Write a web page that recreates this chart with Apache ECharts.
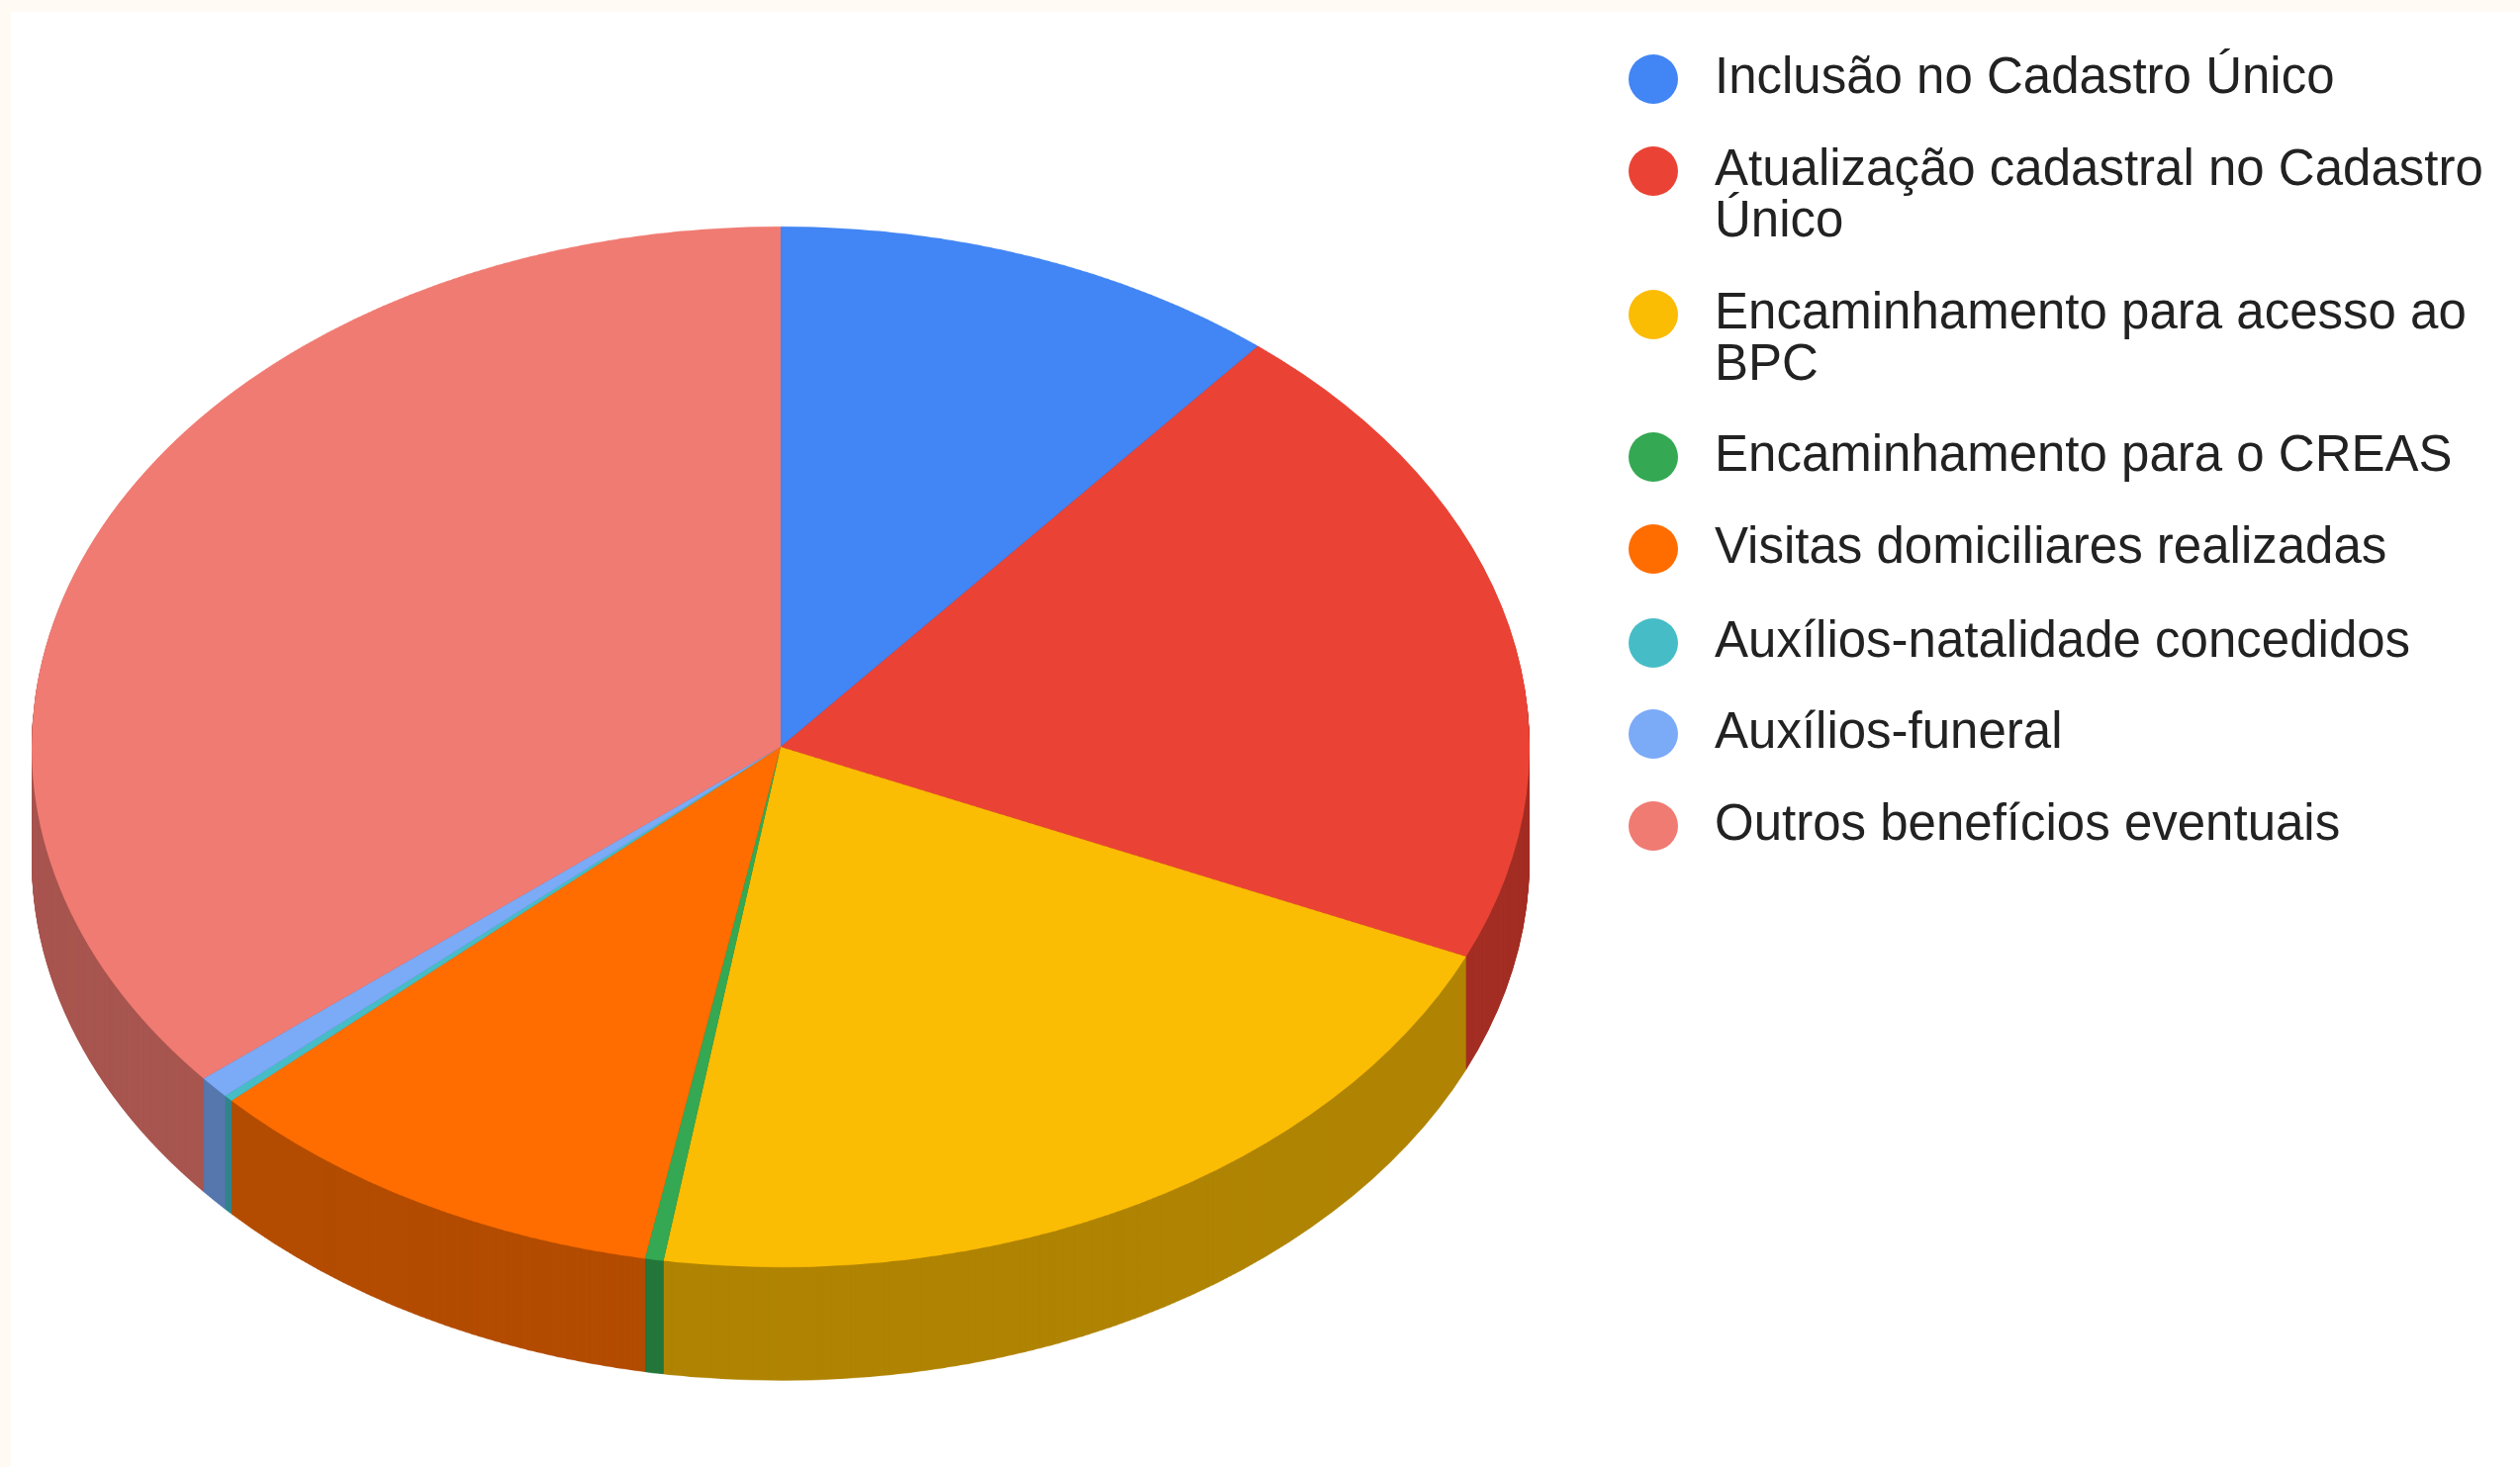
<!DOCTYPE html>
<html>
<head>
<meta charset="utf-8">
<script src="https://cdn.jsdelivr.net/npm/echarts@6/dist/echarts.min.js"></script>
<style>
html, body { margin: 0; padding: 0; width: 2547px; height: 1483px; overflow: hidden; background: #fffaf3; }
#paper { position: absolute; left: 11px; top: 12px; right: 0; bottom: 0; background: #ffffff; }
#pie { position: absolute; left: 0; top: 0; width: 1600px; height: 2134px; transform: scaleY(0.6949); transform-origin: 0 0; }
#legend { position: absolute; left: 0; top: 0; width: 2547px; height: 1483px; }
</style>
</head>
<body>
<div id="paper"></div>
<div id="pie"></div>
<div id="legend"></div>
<script>
// data
var categories = [
	'Inclusão no Cadastro Único',
	'Atualização cadastral no Cadastro Único',
	'Encaminhamento para acesso ao BPC',
	'Encaminhamento para o CREAS',
	'Visitas domiciliares realizadas',
	'Auxílios-natalidade concedidos',
	'Auxílios-funeral',
	'Outros benefícios eventuais'
];
var values = [110, 206, 209, 4, 102, 2, 7, 360];
var legendLabels = [
	'Inclusão no Cadastro Único',
	'Atualização cadastral no Cadastro\nÚnico',
	'Encaminhamento para acesso ao\nBPC',
	'Encaminhamento para o CREAS',
	'Visitas domiciliares realizadas',
	'Auxílios-natalidade concedidos',
	'Auxílios-funeral',
	'Outros benefícios eventuais'
];

var colors = ['#4285f4', '#ea4335', '#fbbc04', '#34a853', '#ff6d01', '#46bdc6', '#7baaf7', '#f07b72'];

function darken(hex, f) {
	var n = parseInt(hex.slice(1), 16);
	var r = Math.round(((n >> 16) & 255) * f);
	var g = Math.round(((n >> 8) & 255) * f);
	var b = Math.round((n & 255) * f);
	return 'rgb(' + r + ',' + g + ',' + b + ')';
}
var sideColors = colors.map(function (c) { return darken(c, 0.7); });

// layout (pie is drawn in a container squashed with css scaleY)
var tilt = 0.6949;
var cx = 789, cyU = 755 / tilt, radius = 757;
var depthU = Math.round(115 / tilt);
var fontFamily = '"Liberation Sans", Arial, sans-serif';
var legendIconY = [80, 173, 318, 462, 555, 650, 742, 835];

function sliceData(cols) {
	return categories.map(function (name, i) {
		return { name: name, value: values[i], itemStyle: { color: cols[i] } };
	});
}

function pieLayer(centerY, cols, z) {
	return {
		type: 'pie',
		silent: true,
		z: z,
		center: [cx, centerY],
		radius: radius,
		startAngle: 90,
		clockwise: true,
		avoidLabelOverlap: false,
		label: { show: false },
		labelLine: { show: false },
		emphasis: { disabled: true },
		itemStyle: { borderWidth: 0 },
		data: sliceData(cols)
	};
}

var series = [pieLayer(cyU, colors, 3)];
for (var d = depthU; d >= 1; d--) {
	series.push(pieLayer(cyU + d, sideColors, 2));
}

var pieChart = echarts.init(document.getElementById('pie'));
pieChart.setOption({
	animation: false,
	series: series
});

// legend, unsquashed, in its own instance.
// wrapped labels get an empty first line so the dot lines up with the first text line
var legends = categories.map(function (name, i) {
	var twoLines = legendLabels[i].indexOf('\n') >= 0;
	var label = twoLines ? '\n' + legendLabels[i] : legendLabels[i];
	return {
		orient: 'vertical',
		left: 1646,
		top: legendIconY[i] - (twoLines ? 78 : 26),
		padding: 0,
		icon: 'circle',
		itemWidth: 50,
		itemHeight: 50,
		selectedMode: false,
		data: [name],
		formatter: function () { return label; },
		textStyle: {
			fontFamily: fontFamily,
			fontSize: 51,
			lineHeight: 52,
			color: '#222222',
			padding: [0, 0, 0, 32]
		}
	};
});

var legendChart = echarts.init(document.getElementById('legend'));
legendChart.setOption({
	animation: false,
	legend: legends,
	series: [{
		type: 'pie',
		silent: true,
		center: [cx, 755],
		radius: 0,
		label: { show: false },
		labelLine: { show: false },
		data: sliceData(colors)
	}]
});
</script>
</body>
</html>
